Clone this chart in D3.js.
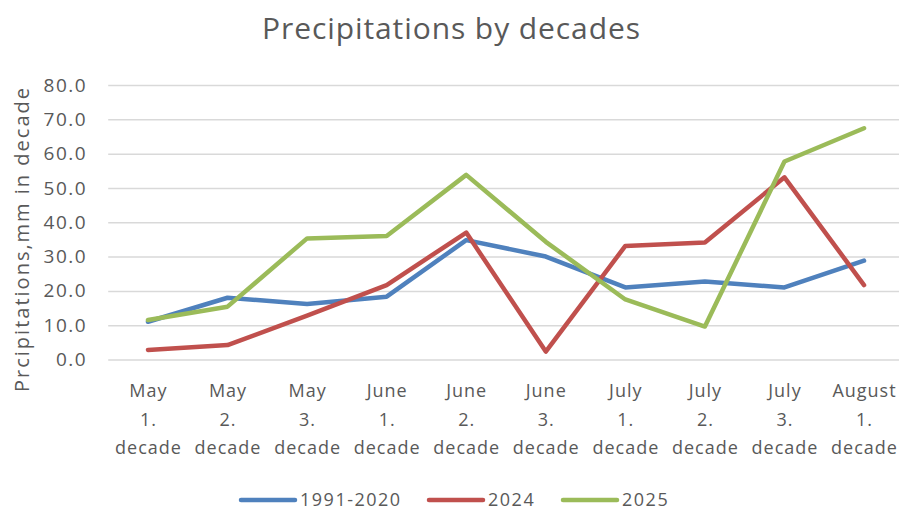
<!DOCTYPE html>
<html><head><meta charset="utf-8">
<script src="https://cdn.jsdelivr.net/npm/d3@7"></script>
<style>body{margin:0;background:#fff}svg{display:block;font-family:"Open Sans",sans-serif}</style>
</head><body>
<svg id="c" width="899" height="510"></svg>
<script>
const categories = [["May","1.","decade"],["May","2.","decade"],["May","3.","decade"],["June","1.","decade"],["June","2.","decade"],["June","3.","decade"],["July","1.","decade"],["July","2.","decade"],["July","3.","decade"],["August","1.","decade"]];
const seriesNames = ["1991-2020","2024","2025"];
const normal = [11.0,18.0,16.2,18.3,34.8,30.0,21.0,22.7,21.0,28.8];
const y2024 = [2.8,4.2,12.8,21.7,37.0,2.3,33.1,34.1,53.1,21.7];
const y2025 = [11.5,15.4,35.3,36.0,53.8,34.3,17.5,9.6,57.7,67.4];
const yTicks = [0,10,20,30,40,50,60,70,80];
const colors = ["#4F81BD","#C0504D","#9BBB59"];

const svg = d3.select("#c");
const x = d3.scaleBand().domain(d3.range(categories.length)).range([108.2,903.8]);
const y = d3.scaleLinear().domain([0,80]).range([359.5,85]);
const txt = "#595959";

svg.append("text").attr("x",451).attr("y",39).attr("text-anchor","middle")
  .attr("font-size",30).attr("fill",txt).attr("textLength",378).attr("lengthAdjust","spacing")
  .text("Precipitations by decades");

const yAxis = svg.append("g").attr("transform","translate(108.2,0)")
  .call(d3.axisLeft(y).tickValues(yTicks).tickSize(-(903.8-108.2)).tickFormat(d3.format(".1f")));
yAxis.select(".domain").remove();
yAxis.selectAll("line").attr("stroke","#D9D9D9").attr("stroke-width",1.5);
yAxis.selectAll("text").attr("x",-21).attr("fill",txt).attr("font-size",19)
  .attr("font-family","Open Sans").attr("letter-spacing",1.5);

svg.append("text").attr("transform","translate(29,240) rotate(-90)").attr("text-anchor","middle")
  .attr("font-size",20).attr("fill",txt).attr("textLength",304).attr("lengthAdjust","spacing")
  .text("Prcipitations,mm in decade");

const xl = svg.append("g");
categories.forEach((c,i)=>{
  const cx = x(i)+x.bandwidth()/2;
  const t = xl.append("text").attr("text-anchor","middle")
    .attr("font-size",18).attr("fill",txt).attr("letter-spacing",1);
  c.forEach((s,j)=>t.append("tspan").attr("x",cx+0.5).attr("y",397+j*28.5).text(s));
});

const line = d3.line().x((d,i)=>x(i)+x.bandwidth()/2).y(d=>y(d));
[normal,y2024,y2025].forEach((s,k)=>{
  svg.append("path").datum(s).attr("d",line).attr("fill","none").attr("stroke",colors[k])
    .attr("stroke-width",4.5).attr("stroke-linejoin","round").attr("stroke-linecap","round");
});

const legX = [241,429,563];
seriesNames.forEach((n,k)=>{
  svg.append("line").attr("x1",legX[k]).attr("x2",legX[k]+54).attr("y1",500).attr("y2",500)
    .attr("stroke",colors[k]).attr("stroke-width",4.5).attr("stroke-linecap","round");
  svg.append("text").attr("x",legX[k]+59).attr("y",505.5).attr("font-size",18).attr("fill",txt)
    .attr("letter-spacing",1.5).text(n);
});
</script>
</body></html>
